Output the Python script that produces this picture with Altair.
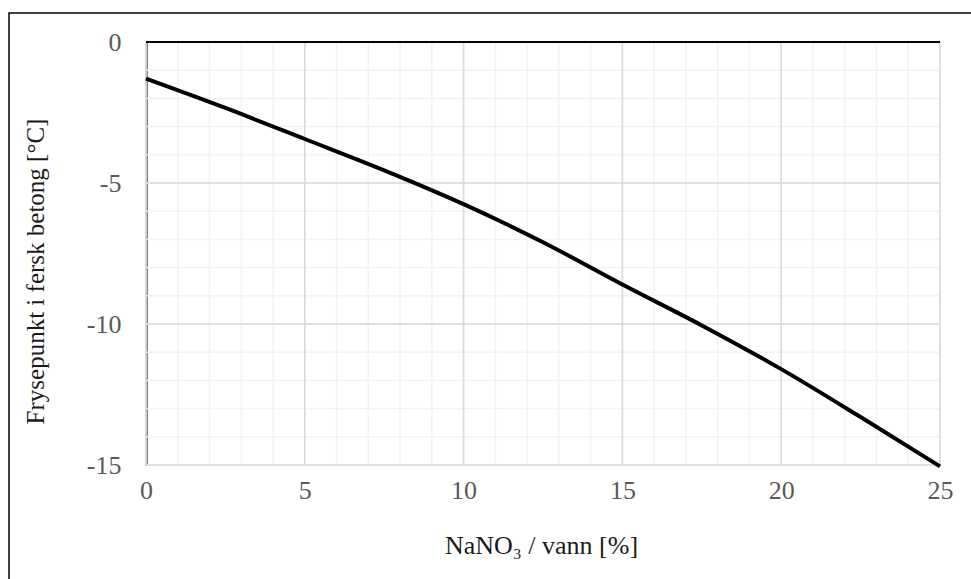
import altair as alt
import pandas as pd

# NaNO3 dosage (% of water) and the resulting freezing point of fresh concrete
pct = [0, 2.5, 5, 7.5, 10, 12.5, 15, 17.5, 20, 22.5, 25]
frys = [-1.3, -2.34, -3.44, -4.55, -5.75, -7.1, -8.6, -10.05, -11.6, -13.3, -15.05]

# grid positions
x_major = [0, 5, 10, 15, 20, 25]
y_major = [0, -5, -10, -15]
x_minor = list(range(0, 26))
y_minor = list(range(-15, 1))

FONT = "Liberation Serif"
W, H = 794, 423

xs = alt.Scale(domain=[0, 25], nice=False, zero=False)
ys = alt.Scale(domain=[-15, 0], nice=False, zero=False)

x_axis = alt.Axis(
    values=x_major,
    title="NaNO₃ / vann [%]",
    grid=False,
    domain=False,
    ticks=False,
    labelFlush=False,
    labelFont=FONT,
    labelFontSize=26,
    labelColor="#595959",
    labelPadding=12,
    titleFont=FONT,
    titleFontSize=26,
    titleFontWeight="normal",
    titleColor="#1a1a1a",
    titleBaseline="middle",
    titleX=395,
    titleY=80,
)

y_axis = alt.Axis(
    values=y_major,
    title="Frysepunkt i fersk betong [°C]",
    grid=False,
    domain=True,
    domainColor="black",
    domainWidth=2,
    ticks=False,
    labelFlush=False,
    labelExpr="toString(datum.value)",
    labelFont=FONT,
    labelFontSize=26,
    labelColor="#595959",
    labelPadding=25,
    titleFont=FONT,
    titleFontSize=25,
    titleFontWeight="normal",
    titleColor="#1a1a1a",
    titleBaseline="middle",
    titleAngle=-90,
    titleX=-111,
    titleY=229,
)

curve = pd.DataFrame({"pct": pct, "frys": frys})

minor_x = alt.Chart(pd.DataFrame({"v": x_minor})).mark_rule(
    color="#f2f2f2", strokeWidth=1.5
).encode(x=alt.X("v:Q", scale=xs, axis=x_axis))

minor_y = alt.Chart(pd.DataFrame({"v": y_minor})).mark_rule(
    color="#f2f2f2", strokeWidth=1.5
).encode(y=alt.Y("v:Q", scale=ys, axis=y_axis))

major_x = alt.Chart(pd.DataFrame({"v": x_major})).mark_rule(
    color="#d9d9d9", strokeWidth=1.5
).encode(x=alt.X("v:Q", scale=xs, axis=x_axis))

major_y = alt.Chart(pd.DataFrame({"v": y_major})).mark_rule(
    color="#d9d9d9", strokeWidth=1.5
).encode(y=alt.Y("v:Q", scale=ys, axis=y_axis))

# x axis crosses at 0, drawn along the top edge
zero_line = alt.Chart(pd.DataFrame({"v": [0]})).mark_rule(
    color="black", strokeWidth=2
).encode(y=alt.Y("v:Q", scale=ys, axis=y_axis))

line = alt.Chart(curve).mark_line(
    color="black", strokeWidth=4, clip=False, interpolate="monotone"
).encode(
    x=alt.X("pct:Q", scale=xs, axis=x_axis),
    y=alt.Y("frys:Q", scale=ys, axis=y_axis),
)

# figure frame: its right and bottom sides run past the page edge
frame = alt.Chart(pd.DataFrame({"a": [0]})).mark_rect(
    fill=None, stroke="black", strokeWidth=1.5, clip=False
).encode(
    x=alt.value(-137), x2=alt.value(835),
    y=alt.value(-29), y2=alt.value(545),
)

chart = alt.layer(
    minor_x, minor_y, major_x, major_y, zero_line, line, frame
).properties(
    width=W, height=H,
    autosize=alt.AutoSizeParams(type="none"),
    padding={"left": 146, "top": 42, "right": 31, "bottom": 114},
    background="white",
).configure_view(stroke=None)

chart.save("out.html", embed_options={"renderer": "svg", "actions": False})
